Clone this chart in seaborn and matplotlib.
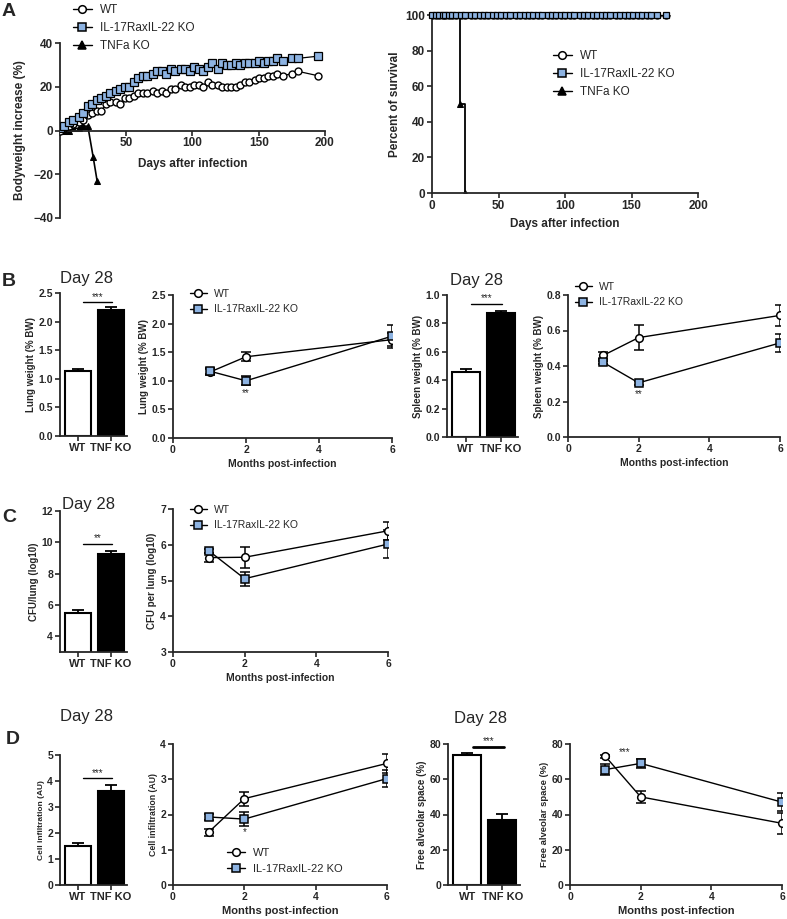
import numpy as np
import pandas as pd
import matplotlib
matplotlib.use("Agg")
import matplotlib.pyplot as plt
import seaborn as sns
from matplotlib.lines import Line2D

# ---- data ----
# A: bodyweight over time
bw_days = [0, 3, 7, 10, 14, 17, 21, 24, 28, 31, 35, 38, 42, 45, 49, 52, 56, 59, 63, 66,
           70, 73, 77, 80, 84, 87, 91, 94, 98, 101, 105, 108, 112, 115, 119, 122, 126, 129,
           133, 136, 140, 143, 147, 150, 154, 157, 161, 164, 168, 175, 180, 195]
bw_wt = [0, 1, 2, 3, 4, 5, 7, 8, 9, 9, 12, 13, 13, 12, 15, 15, 16, 17, 17, 17,
         18, 17, 18, 17, 19, 19, 21, 20, 20, 21, 21, 20, 22, 21, 21, 20, 20, 20,
         20, 21, 22, 22, 23, 24, 24, 25, 25, 26, 25, 26, 27, 25]
bw_ko = [1, 2, 4, 5, 6, 8, 11, 12, 14, 15, 16, 17, 18, 19, 20, 20, 22, 24, 25, 25,
         26, 27, 27, 26, 28, 27, 28, 28, 27, 29, 28, 27, 29, 31, 28, 31, 30, 30,
         31, 30, 31, 31, 31, 32, 31, 32, 32, 33, 32, 33, 33, 34]
tnf_days = [0, 3, 7, 10, 14, 17, 21, 25, 28]
bw_tnf = [0, 0, 0, 1, 1, 2, 2, -12, -23]

# A: survival
surv_days = [0, 3, 5, 8, 10, 13, 15, 18, 22, 25, 29, 32, 36, 39, 42, 46, 49, 52, 56, 59,
             63, 66, 70, 73, 76, 80, 83, 87, 90, 93, 97, 100, 104, 107, 111, 114, 117,
             121, 124, 128, 131, 134, 138, 141, 145, 148, 151, 155, 158, 162, 165, 169, 176]
surv_wt = [100] * len(surv_days)
surv_ko = [100] * len(surv_days)
surv_tnf_days = [0, 21, 25]
surv_tnf = [100, 50, 0]

groups = ["WT", "TNF KO"]
months = [1, 2, 6]

# B
lung_bar = [1.13, 2.20]
lung_bar_err = [0.05, 0.05]
lung_wt = [1.15, 1.42, 1.72]
lung_wt_err = [0.05, 0.08, 0.12]
lung_ko = [1.17, 1.00, 1.78]
lung_ko_err = [0.05, 0.08, 0.20]

spleen_bar = [0.46, 0.87]
spleen_bar_err = [0.02, 0.02]
spleen_wt = [0.46, 0.56, 0.685]
spleen_wt_err = [0.02, 0.07, 0.06]
spleen_ko = [0.42, 0.305, 0.53]
spleen_ko_err = [0.01, 0.01, 0.05]

# C
cfu_bar = [5.52, 9.25]
cfu_bar_err = [0.18, 0.2]
cfu_wt = [5.64, 5.65, 6.39]
cfu_wt_err = [0.12, 0.3, 0.25]
cfu_ko = [5.83, 5.05, 6.02]
cfu_ko_err = [0.05, 0.2, 0.4]

# D
cell_bar = [1.5, 3.6]
cell_bar_err = [0.1, 0.25]
cell_wt = [1.5, 2.45, 3.45]
cell_wt_err = [0.1, 0.2, 0.28]
cell_ko = [1.93, 1.87, 3.02]
cell_ko_err = [0.08, 0.2, 0.25]

alv_bar = [73.5, 37.0]
alv_bar_err = [1.5, 3.5]
alv_wt = [73.0, 50.0, 35.0]
alv_wt_err = [0.8, 3.5, 6.0]
alv_ko = [65.5, 69.0, 47.0]
alv_ko_err = [3.0, 2.5, 5.0]

KO_BLUE = "#8DB3E2"

# ---- styling ----
sns.set_style("ticks")
plt.rcParams["font.family"] = ["Liberation Sans", "DejaVu Sans"]

W, H = 787, 919
fig = plt.figure(figsize=(W / 100, H / 100), dpi=100)


def rect(x0, y0, x1, y1):
    return [x0 / W, 1 - y1 / H, (x1 - x0) / W, (y1 - y0) / H]


def style(ax, fs=7.5):
    sns.despine(ax=ax)
    for s in ["left", "bottom"]:
        ax.spines[s].set_linewidth(1.3)
    ax.tick_params(width=1.2, length=3.5, labelsize=fs, pad=1.5)
    for t in ax.get_xticklabels() + ax.get_yticklabels():
        t.set_fontweight("bold")


def legend_at(ax, x, y, labels, markers, faces, fs=7.5):
    handles = [Line2D([], [], color="black", lw=1, marker=m, ms=5.5,
                      markerfacecolor=f, markeredgecolor="black", markeredgewidth=1.1)
               for m, f in zip(markers, faces)]
    ax.legend(handles, labels, loc="upper left", bbox_to_anchor=(x / W, 1 - y / H),
              bbox_transform=fig.transFigure, frameon=False, fontsize=fs,
              handlelength=1.6, handletextpad=0.7, labelspacing=0.5,
              borderpad=0, borderaxespad=0)


def bar_panel(r, vals, errs, ylim, yticks, ylabel, sig, line_y, star_y, lab_fs=7, thick=1.0):
    ax = fig.add_axes(rect(*r))
    sns.barplot(x=groups, y=vals, hue=groups, palette=["white", "black"], legend=False,
                edgecolor="black", linewidth=1.5, width=0.8, errorbar=None, ax=ax)
    ax.errorbar([0, 1], vals, yerr=[[0, 0], errs], fmt="none", ecolor="black",
                elinewidth=1.3, capsize=4, capthick=1.3)
    ax.plot([0.15, 1.05], [line_y, line_y], color="black", lw=thick, clip_on=False)
    ax.text(0.6, star_y, sig, ha="center", va="center", fontsize=7, clip_on=False)
    ax.set_xlim(-0.55, 1.5)
    ax.set_ylim(*ylim)
    ax.set_yticks(yticks)
    ax.set_xlabel("")
    ax.set_ylabel(ylabel, fontsize=lab_fs, fontweight="bold", labelpad=2)
    style(ax)
    for t in ax.get_xticklabels():
        t.set_fontsize(8)
    return ax


def line_panel(r, wt, wt_err, ko, ko_err, ylim, yticks, ylabel, lab_fs=7, xl_fs=7.5):
    ax = fig.add_axes(rect(*r))
    ax.errorbar(months, wt, yerr=wt_err, fmt="none", ecolor="black", elinewidth=1.1,
                capsize=3.5, capthick=1.1, zorder=2)
    ax.errorbar(months, ko, yerr=ko_err, fmt="none", ecolor="black", elinewidth=1.1,
                capsize=3.5, capthick=1.1, zorder=2)
    sns.lineplot(x=months, y=wt, ax=ax, color="black", lw=1.0, marker="o", ms=5.5,
                 markerfacecolor="white", markeredgecolor="black", markeredgewidth=1.1, zorder=3)
    sns.lineplot(x=months, y=ko, ax=ax, color="black", lw=1.0, marker="s", ms=5.5,
                 markerfacecolor=KO_BLUE, markeredgecolor="black", markeredgewidth=1.1, zorder=4)
    ax.set_xlim(0, 6)
    ax.set_xticks([0, 2, 4, 6])
    ax.set_ylim(*ylim)
    ax.set_yticks(yticks)
    ax.set_xlabel("Months post-infection", fontsize=xl_fs, fontweight="bold", labelpad=3)
    ax.set_ylabel(ylabel, fontsize=lab_fs, fontweight="bold", labelpad=2)
    style(ax)
    return ax


# ---- A: bodyweight ----
ax = fig.add_axes(rect(60, 43, 325, 218))
sns.lineplot(x=tnf_days, y=bw_tnf, ax=ax, color="black", lw=1.2, marker="^", ms=5,
             markerfacecolor="black", markeredgecolor="black", zorder=2)
sns.lineplot(x=bw_days, y=bw_wt, ax=ax, color="black", lw=0.9, marker="o", ms=5,
             markerfacecolor="white", markeredgecolor="black", markeredgewidth=1.0, zorder=3)
sns.lineplot(x=bw_days, y=bw_ko, ax=ax, color="black", lw=0.9, marker="s", ms=5.3,
             markerfacecolor=KO_BLUE, markeredgecolor="black", markeredgewidth=0.9, zorder=4)
ax.set_xlim(0, 200)
ax.set_ylim(-40, 40)
ax.set_xticks([0, 50, 100, 150, 200])
ax.set_xticklabels(["", "50", "100", "150", "200"])
ax.set_yticks([-40, -20, 0, 20, 40])
ax.spines["bottom"].set_position(("data", 0))
ax.set_xlabel("Days after infection", fontsize=8.5, fontweight="bold", labelpad=6)
ax.set_ylabel("Bodyweight increase (%)", fontsize=8.5, fontweight="bold", labelpad=5)
style(ax, fs=8.5)
legend_at(ax, 73, 4, ["WT", "IL-17RaxIL-22 KO", "TNFa KO"], ["o", "s", "^"],
          ["white", KO_BLUE, "black"], fs=8.5)

# ---- A: survival ----
ax = fig.add_axes(rect(432, 15, 698, 193))
sns.lineplot(x=surv_tnf_days, y=surv_tnf, ax=ax, color="black", lw=1.3, marker="^", ms=5,
             markerfacecolor="black", markeredgecolor="black", drawstyle="steps-post", zorder=2)
sns.lineplot(x=surv_days, y=surv_wt, ax=ax, color="black", lw=1.0, marker="o", ms=5,
             markerfacecolor="white", markeredgecolor="black", markeredgewidth=1.0, zorder=3)
sns.lineplot(x=surv_days, y=surv_ko, ax=ax, color="black", lw=1.0, marker="s", ms=5,
             markerfacecolor=KO_BLUE, markeredgecolor="black", markeredgewidth=0.9, zorder=4,
             clip_on=False)
ax.set_xlim(0, 200)
ax.set_ylim(0, 100)
ax.set_xticks([0, 50, 100, 150, 200])
ax.set_yticks([0, 20, 40, 60, 80, 100])
ax.set_xlabel("Days after infection", fontsize=8.5, fontweight="bold", labelpad=4)
ax.set_ylabel("Percent of survival", fontsize=8.5, fontweight="bold", labelpad=3)
style(ax, fs=8.5)
legend_at(ax, 553, 50, ["WT", "IL-17RaxIL-22 KO", "TNFa KO"], ["o", "s", "^"],
          ["white", KO_BLUE, "black"], fs=8.5)

# ---- B ----
bar_panel((60, 293, 127, 436), lung_bar, lung_bar_err, (0, 2.5), [0, 0.5, 1.0, 1.5, 2.0, 2.5],
          "Lung weight (% BW)", "***", 2.35, 2.43)
ax = line_panel((173, 295, 392, 438), lung_wt, lung_wt_err, lung_ko, lung_ko_err, (0, 2.5),
                [0, 0.5, 1.0, 1.5, 2.0, 2.5], "Lung weight (% BW)")
ax.text(2, 0.78, "**", ha="center", va="center", fontsize=7)
legend_at(ax, 190, 289, ["WT", "IL-17RaxIL-22 KO"], ["o", "s"], ["white", KO_BLUE])

bar_panel((447, 295, 518, 437), spleen_bar, spleen_bar_err, (0, 1.0), [0, 0.2, 0.4, 0.6, 0.8, 1.0],
          "Spleen weight (% BW)", "***", 0.94, 0.975)
ax = line_panel((568, 295, 780, 437), spleen_wt, spleen_wt_err, spleen_ko, spleen_ko_err, (0, 0.8),
                [0, 0.2, 0.4, 0.6, 0.8], "Spleen weight (% BW)")
ax.text(2, 0.24, "**", ha="center", va="center", fontsize=7)
legend_at(ax, 575, 282, ["WT", "IL-17RaxIL-22 KO"], ["o", "s"], ["white", KO_BLUE])

# ---- C ----
bar_panel((60, 511, 127, 652), cfu_bar, cfu_bar_err, (3, 12), [4, 6, 8, 10, 12],
          "CFU/lung (log10)", "**", 9.87, 10.25)
ax = line_panel((173, 509, 388, 652), cfu_wt, cfu_wt_err, cfu_ko, cfu_ko_err, (3, 7),
                [3, 4, 5, 6, 7], "CFU per lung (log10)")
legend_at(ax, 190, 505, ["WT", "IL-17RaxIL-22 KO"], ["o", "s"], ["white", KO_BLUE])

# ---- D ----
bar_panel((60, 755, 127, 885), cell_bar, cell_bar_err, (0, 5), [0, 1, 2, 3, 4, 5],
          "Cell infiltration (AU)", "***", 4.1, 4.3, lab_fs=6)
ax = line_panel((173, 744, 387, 885), cell_wt, cell_wt_err, cell_ko, cell_ko_err, (0, 4),
                [0, 1, 2, 3, 4], "Cell infiltration (AU)", lab_fs=6.3, xl_fs=8)
ax.text(2, 1.5, "*", ha="center", va="center", fontsize=7)
legend_at(ax, 227, 848, ["WT", "IL-17RaxIL-22 KO"], ["o", "s"], ["white", KO_BLUE], fs=8)

bar_panel((448, 744, 520, 885), alv_bar, alv_bar_err, (0, 80), [0, 20, 40, 60, 80],
          "Free alveolar space (%)", "***", 78.5, 81.5, thick=2.0)
ax = line_panel((570, 744, 782, 885), alv_wt, alv_wt_err, alv_ko, alv_ko_err, (0, 80),
                [0, 20, 40, 60, 80], "Free alveolar space (%)", lab_fs=6.8, xl_fs=8)
ax.text(1.56, 75.5, "***", ha="center", va="center", fontsize=7)

# ---- titles and panel letters ----
for x, y in [(86, 278), (477, 281), (88, 504), (87, 717), (480, 719)]:
    fig.text(x / W, 1 - y / H, "Day 28", ha="center", va="center", fontsize=12)
for letter, x, y in [("A", 9, 11), ("B", 9, 282), ("C", 9, 518), ("D", 13, 740)]:
    fig.text(x / W, 1 - y / H, letter, ha="center", va="center", fontsize=14, fontweight="bold")

fig.savefig("out.png", dpi=100)
